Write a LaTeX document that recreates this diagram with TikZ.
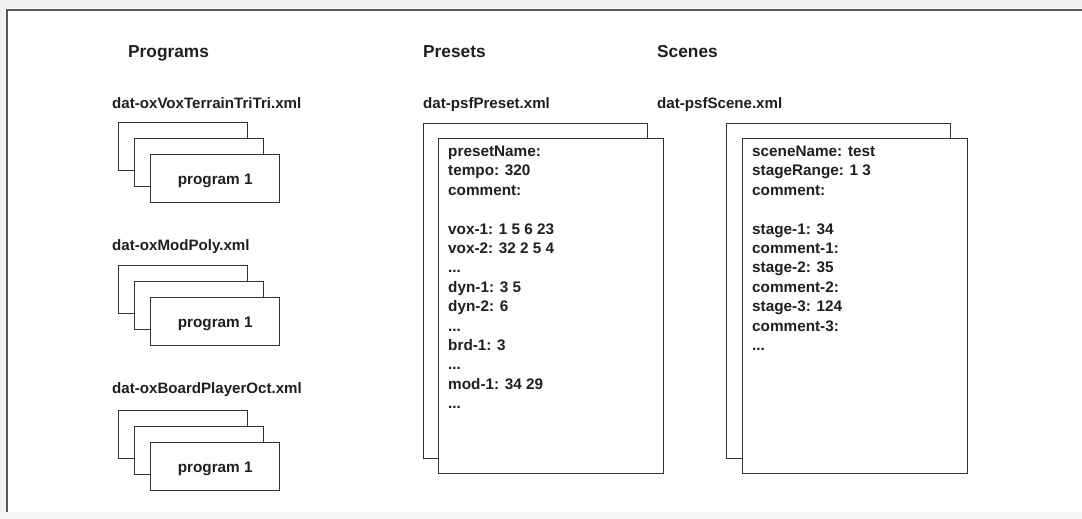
\documentclass[tikz,border=0pt]{standalone}
\usepackage{fontspec}
\setmainfont{Liberation Sans}
\newcommand\mydots{...}
\begin{document}
\begin{tikzpicture}[x=1pt,y=-1pt,
  title/.style={anchor=base west,inner sep=0pt,font=\fontsize{17.3}{20}\selectfont\bfseries,text=black!88},
  fname/.style={anchor=base west,inner sep=0pt,font=\fontsize{15.1}{19}\selectfont\bfseries,text=black!88},
  entry/.style={anchor=base west,inner sep=0pt,font=\fontsize{15.3}{19}\selectfont\bfseries,text=black!88},
  sheet/.style={draw=black!80,line width=1.4pt,fill=white},
  prog/.style={sheet,anchor=north west,minimum width=129pt,minimum height=48pt,inner sep=0pt,
    font=\fontsize{15.3}{19}\selectfont\bfseries,text=black!88},
  page/.style={sheet,anchor=north west,minimum width=225pt,minimum height=335pt,inner sep=0pt}]
\useasboundingbox (0,0) rectangle (1082,519);
% window frame
\fill[black!6] (0,0) rectangle (1082,8);
\fill[black!5] (0,0) rectangle (6,519);
\fill[black!4] (0,512) rectangle (1082,519);
\draw[black!65,line width=2.5pt] (1082,10) -- (7,10) -- (7,512);
% Programs
\node[title] (tprog) at (128,58) {Programs};
\node[fname] (f1) at (112,108) {dat-oxVoxTerrainTriTri.xml};
\node[fname] (f2) at (112,250) {dat-oxModPoly.xml};
\node[fname] (f3) at (112,393) {dat-oxBoardPlayerOct.xml};
\foreach \k/\y in {1/122,2/265,3/410}{
  \node[prog] (pa\k) at (118,\y) {};
  \node[prog] (pb\k) at (134,\y+16) {};
  \node[prog,text depth=0pt] (pc\k) at (150,\y+32) {\raisebox{-2pt}{program 1}};
}
% Presets
\node[title] (tpre) at (423,58) {Presets};
\node[fname] (fpre) at (423,108) {dat-psfPreset.xml};
\node[page,minimum width=224pt] (pra) at (423,123) {};
\node[page] (prb) at (438,138) {};
\foreach \t/\i in {presetName:/0,tempo: 320/1,comment:/2,vox-1: 1 5 6 23/4,vox-2: 32 2 5 4/5,\mydots/6,dyn-1: 3 5/7,dyn-2: 6/8,\mydots/9,brd-1: 3/10,\mydots/11,mod-1: 34 29/12,\mydots/13}{
  \node[entry] (pl\i) at (448,{156.5+19.4*\i}) {\t};
}
% Scenes
\node[title] (tsce) at (657,58) {Scenes};
\node[fname] (fsce) at (657,108) {dat-psfScene.xml};
\node[page,minimum width=224pt] (sca) at (726,123) {};
\node[page] (scb) at (742,138) {};
\foreach \t/\i in {sceneName: test/0,stageRange: 1 3/1,comment:/2,stage-1: 34/4,comment-1:/5,stage-2: 35/6,comment-2:/7,stage-3: 124/8,comment-3:/9,\mydots/10}{
  \node[entry] (sl\i) at (752,{156.5+19.4*\i}) {\t};
}
\end{tikzpicture}
\end{document}
